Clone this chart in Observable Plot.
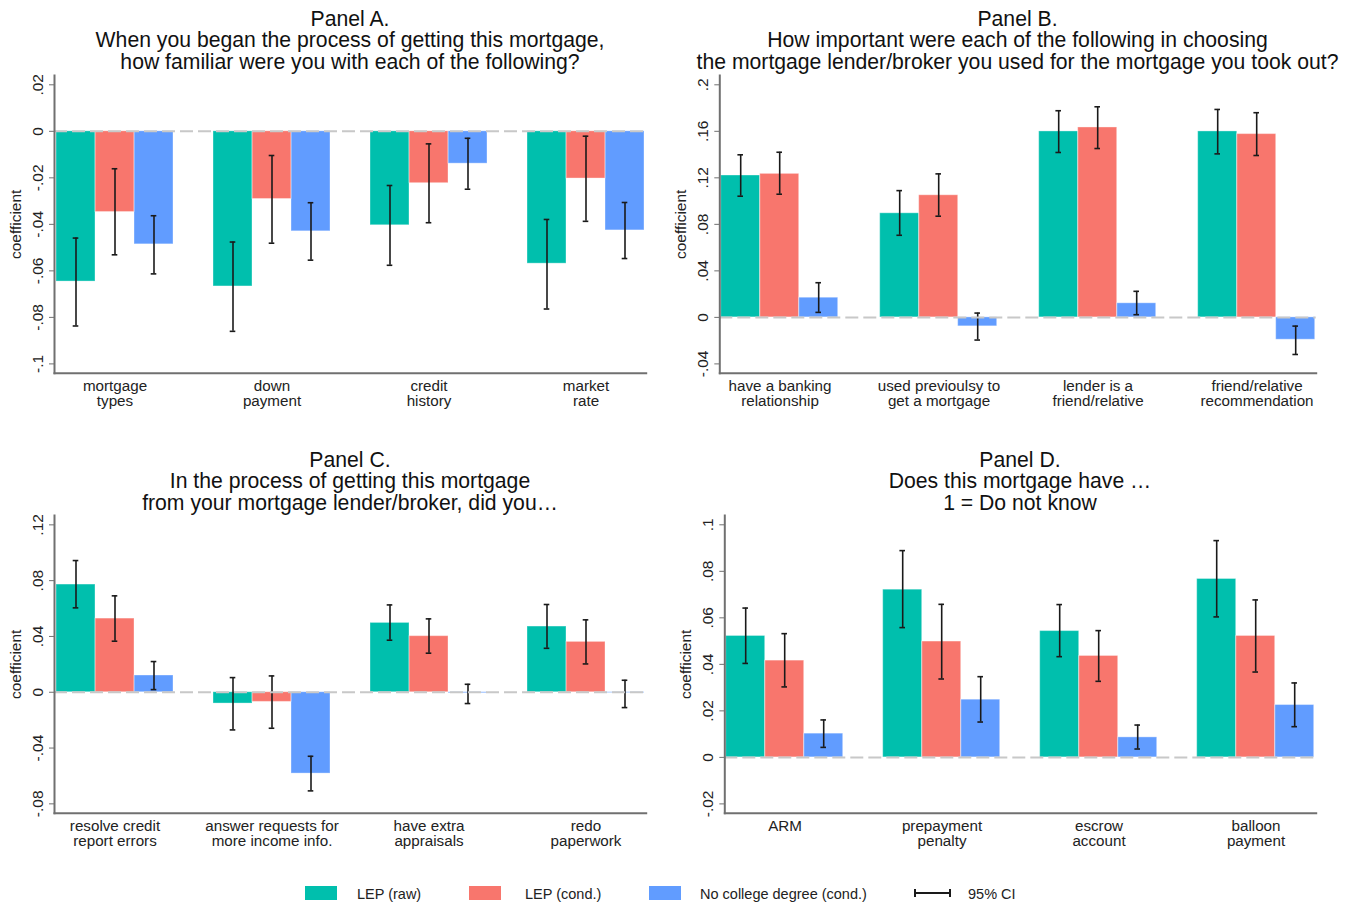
<!DOCTYPE html>
<html><head><meta charset="utf-8">
<script src="https://cdn.jsdelivr.net/npm/d3@7"></script>
<script src="https://cdn.jsdelivr.net/npm/@observablehq/plot@0.6"></script>
<style>
body{margin:0;background:#fff;font-family:"Liberation Sans",Arial,sans-serif;color:#111;}
#root{position:relative;width:1356px;height:905px;overflow:hidden;background:#fff}
.panel{position:absolute}
.title{position:absolute;text-align:center;font-size:21.2px;line-height:21.5px;white-space:nowrap;transform:translateX(-50%);color:#111}
.leg{position:absolute;font-size:14.5px;line-height:14px;color:#222;white-space:nowrap}
.sw{position:absolute;width:32px;height:14px}
</style></head>
<body><div id="root"></div>
<script>
// ---------- data ----------
const seriesNames = ["LEP (raw)", "LEP (cond.)", "No college degree (cond.)"];
const seriesColors = ["#00BFAD", "#F8766D", "#619CFF"];

const A_cats = ["mortgage\ntypes", "down\npayment", "credit\nhistory", "market\nrate"];
const A_raw = [-0.0646, -0.0667, -0.0404, -0.0569];
const A_raw_ci = [[-0.0837,-0.0459],[-0.0860,-0.0476],[-0.0576,-0.0233],[-0.0764,-0.0379]];
const A_cond = [-0.0347, -0.0291, -0.0223, -0.0203];
const A_cond_ci = [[-0.0531,-0.0161],[-0.0481,-0.0104],[-0.0393,-0.0054],[-0.0387,-0.0021]];
const A_nocol = [-0.0486, -0.0430, -0.0139, -0.0426];
const A_nocol_ci = [[-0.0613,-0.0363],[-0.0554,-0.0307],[-0.0249,-0.0030],[-0.0547,-0.0306]];
const A_ticks = [-0.1, -0.08, -0.06, -0.04, -0.02, 0, 0.02];
const A_domain = [-0.104, 0.024];

const B_cats = ["have a banking\nrelationship", "used previoulsy to\nget a mortgage", "lender is a\nfriend/relative", "friend/relative\nrecommendation"];
const B_raw = [0.1220, 0.0895, 0.1599, 0.1599];
const B_raw_ci = [[0.1042,0.1398],[0.0706,0.1090],[0.1418,0.1777],[0.1406,0.1788]];
const B_cond = [0.1234, 0.1050, 0.1633, 0.1576];
const B_cond_ci = [[0.1059,0.1420],[0.0870,0.1234],[0.1452,0.1811],[0.1392,0.1760]];
const B_nocol = [0.0169, -0.0077, 0.0121, -0.0192];
const B_nocol_ci = [[0.0043,0.0298],[-0.0195,0.0037],[0.0023,0.0224],[-0.0319,-0.0075]];
const B_ticks = [-0.04, 0, 0.04, 0.08, 0.12, 0.16, 0.2];
const B_domain = [-0.048, 0.208];

const C_cats = ["resolve credit\nreport errors", "answer requests for\nmore income info.", "have extra\nappraisals", "redo\npaperwork"];
const C_raw = [0.0772, -0.0081, 0.0497, 0.0471];
const C_raw_ci = [[0.0605,0.0944],[-0.0270,0.0105],[0.0373,0.0626],[0.0315,0.0629]];
const C_cond = [0.0528, -0.0069, 0.0402, 0.0361];
const C_cond_ci = [[0.0366,0.0691],[-0.0258,0.0117],[0.0280,0.0526],[0.0203,0.0519]];
const C_nocol = [0.0120, -0.0583, -0.0007, -0.0005];
const C_nocol_ci = [[0.0019,0.0220],[-0.0707,-0.0459],[-0.0081,0.0057],[-0.0110,0.0086]];
const C_ticks = [-0.08, -0.04, 0, 0.04, 0.08, 0.12];
const C_domain = [-0.0867, 0.1267];

const D_cats = ["ARM", "prepayment\npenalty", "escrow\naccount", "balloon\npayment"];
const D_raw = [0.0522, 0.0721, 0.0543, 0.0767];
const D_raw_ci = [[0.0404,0.0642],[0.0558,0.0889],[0.0433,0.0657],[0.0604,0.0932]];
const D_cond = [0.0416, 0.0498, 0.0436, 0.0522];
const D_cond_ci = [[0.0303,0.0532],[0.0337,0.0658],[0.0327,0.0545],[0.0367,0.0677]];
const D_nocol = [0.0102, 0.0248, 0.0086, 0.0225];
const D_nocol_ci = [[0.0043,0.0161],[0.0152,0.0347],[0.0036,0.0139],[0.0132,0.0320]];
const D_ticks = [-0.02, 0, 0.02, 0.04, 0.06, 0.08, 0.1];
const D_domain = [-0.024, 0.104];

const titles = {
  A: ["Panel A.", "When you began the process of getting this mortgage,", "how familiar were you with each of the following?"],
  B: ["Panel B.", "How important were each of the following in choosing", "the mortgage lender/broker you used for the mortgage you took out?"],
  C: ["Panel C.", "In the process of getting this mortgage", "from your mortgage lender/broker, did you…"],
  D: ["Panel D.", "Does this mortgage have …", "1 = Do not know"]
};

// ---------- helpers ----------
const fmt = d => d === 0 ? "0" : String(+d.toFixed(4)).replace(/^(-?)0\./, "$1.");
const FONT = "'Liberation Sans', Arial, sans-serif";

function rowsFor(cats, vals, cis) {
  const rows = [];
  cats.forEach((c, i) => vals.forEach((v, s) => rows.push({cat: c, series: seriesNames[s], v: v[i], lo: cis[s][i][0], hi: cis[s][i][1]})));
  return rows;
}

const H = 345, MT = 5, MB = 42.3;

function makeBars({cats, vals, cis, domain, width, ml, mr}) {
  const rows = rowsFor(cats, vals, cis);
  return Plot.plot({
    width, height: H, marginTop: MT, marginBottom: MB, marginLeft: ml, marginRight: mr,
    style: {fontFamily: FONT, fontSize: "15px", color: "#222", background: "transparent"},
    fx: {domain: cats, paddingInner: 0.2532, paddingOuter: 0, label: null, axis: null},
    x: {domain: seriesNames, padding: 0, axis: null},
    y: {domain, label: null, axis: null},
    color: {domain: seriesNames, range: seriesColors},
    marks: [
      Plot.barY(rows, {fx: "cat", x: "series", y: "v", fill: "series"}),
      Plot.barY(rows, {fx: "cat", x: "series", y: "v", fill: "none", stroke: "white", strokeOpacity: 0.35, strokeWidth: 1}),
      Plot.ruleX(rows, {fx: "cat", x: "series", y1: "lo", y2: "hi", stroke: "#1a1a1a", strokeWidth: 1.6}),
      Plot.tickY(rows, {fx: "cat", x: "series", y: "lo", stroke: "#1a1a1a", strokeWidth: 1.6, insetLeft: 16.7, insetRight: 16.7}),
      Plot.tickY(rows, {fx: "cat", x: "series", y: "hi", stroke: "#1a1a1a", strokeWidth: 1.6, insetLeft: 16.7, insetRight: 16.7}),
      Plot.axisFx({anchor: "bottom", tickSize: 0, tickPadding: 7.5, label: null, lineHeight: 0.96, fontSize: 15.2})
    ]
  });
}

function makeAxes({ticks, domain, width, ml, mr}) {
  return Plot.plot({
    width, height: H, marginTop: MT, marginBottom: MB, marginLeft: ml, marginRight: mr,
    style: {fontFamily: FONT, fontSize: "15px", color: "#222", background: "transparent"},
    y: {domain, label: null},
    marks: [
      Plot.ruleY([0], {stroke: "#c8c8c8", strokeWidth: 2, strokeDasharray: "13,5"}),
      Plot.frame({anchor: "left", stroke: "#707070", strokeWidth: 2}),
      Plot.frame({anchor: "bottom", stroke: "#707070", strokeWidth: 2}),
      Plot.axisY({ticks, tickFormat: fmt, tickRotate: -90, tickSize: 5, tickPadding: 7, stroke: "#707070",
                  label: "coefficient", labelArrow: "none", labelAnchor: "center", labelOffset: 45, fontSize: 15.5})
    ]
  });
}

const root = document.getElementById("root");
function place(el, left, top) { el.classList.add("panel"); el.style.left = left + "px"; el.style.top = top + "px"; root.appendChild(el); }
function addTitle(lines, cx, top) {
  const d = document.createElement("div");
  d.className = "title"; d.style.left = cx + "px"; d.style.top = top + "px";
  d.innerHTML = lines.map(l => `<div>${l}</div>`).join("");
  root.appendChild(d);
}
function addPanel(opts, left, top) {
  place(makeBars(opts), left, top);
  place(makeAxes(opts), left, top);
}

addPanel({cats: A_cats, vals: [A_raw, A_cond, A_nocol], cis: [A_raw_ci, A_cond_ci, A_nocol_ci], ticks: A_ticks, domain: A_domain, width: 670, ml: 54, mr: 24.3}, 0, 70);
addPanel({cats: B_cats, vals: [B_raw, B_cond, B_nocol], cis: [B_raw_ci, B_cond_ci, B_nocol_ci], ticks: B_ticks, domain: B_domain, width: 686, ml: 49.3, mr: 40.3}, 670, 70);
addPanel({cats: C_cats, vals: [C_raw, C_cond, C_nocol], cis: [C_raw_ci, C_cond_ci, C_nocol_ci], ticks: C_ticks, domain: C_domain, width: 670, ml: 54, mr: 24.3}, 0, 510);
addPanel({cats: D_cats, vals: [D_raw, D_cond, D_nocol], cis: [D_raw_ci, D_cond_ci, D_nocol_ci], ticks: D_ticks, domain: D_domain, width: 686, ml: 54.3, mr: 40.3}, 670, 510);

addTitle(titles.A, 350, 7.5);
addTitle(titles.B, 1017.5, 7.5);
addTitle(titles.C, 350, 448.5);
addTitle(titles.D, 1020, 448.5);

// legend
const legItems = [
  {x: 305, tx: 357, label: seriesNames[0], color: seriesColors[0]},
  {x: 469, tx: 525, label: seriesNames[1], color: seriesColors[1]},
  {x: 649, tx: 700, label: seriesNames[2], color: seriesColors[2]},
];
legItems.forEach(it => {
  const s = document.createElement("div"); s.className = "sw";
  s.style.left = it.x + "px"; s.style.top = "886px"; s.style.background = it.color;
  root.appendChild(s);
  const t = document.createElement("div"); t.className = "leg";
  t.style.left = it.tx + "px"; t.style.top = "887px"; t.textContent = it.label;
  root.appendChild(t);
});
const ci = document.createElementNS("http://www.w3.org/2000/svg", "svg");
ci.setAttribute("width", 40); ci.setAttribute("height", 10);
ci.style.position = "absolute"; ci.style.left = "913px"; ci.style.top = "888px";
ci.innerHTML = '<line x1="2" y1="5" x2="37" y2="5" stroke="#1a1a1a" stroke-width="2"/><line x1="2" y1="1" x2="2" y2="9" stroke="#1a1a1a" stroke-width="2"/><line x1="37" y1="1" x2="37" y2="9" stroke="#1a1a1a" stroke-width="2"/>';
root.appendChild(ci);
const cit = document.createElement("div"); cit.className = "leg";
cit.style.left = "968px"; cit.style.top = "887px"; cit.textContent = "95% CI";
root.appendChild(cit);
</script></body></html>
